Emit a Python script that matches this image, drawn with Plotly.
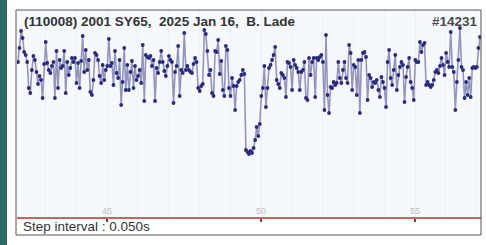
import plotly.graph_objects as go

# Time axis (seconds, per reference axis), constant step interval
t_start = 42.11
step = 0.05

# Relative brightness readings (arbitrary relative-magnitude units, larger = fainter)
rel_mag = [
    62, 48, 31, 38, 52, 55, 62, 88, 93, 70,
    56, 60, 72, 84, 76, 80, 98, 64, 42, 63,
    70, 73, 66, 62, 98, 51, 88, 60, 68, 66,
    51, 93, 62, 75, 68, 58, 62, 58, 83, 63,
    88, 61, 36, 72, 50, 70, 60, 92, 95, 80,
    53, 55, 60, 76, 83, 65, 80, 70, 66, 39,
    66, 63, 85, 51, 73, 78, 60, 105, 82, 48,
    90, 65, 90, 72, 61, 88, 66, 80, 76, 70,
    83, 45, 101, 55, 57, 58, 56, 66, 60, 101,
    68, 73, 62, 51, 62, 71, 76, 66, 56, 60,
    62, 103, 72, 66, 46, 96, 70, 73, 33, 70,
    66, 70, 72, 73, 64, 58, 62, 88, 91, 86,
    84, 30, 34, 51, 75, 70, 93, 96, 51, 52,
    40, 74, 61, 90, 96, 46, 50, 88, 96, 78,
    86, 110, 86, 82, 80, 75, 70, 74, 150, 152,
    154, 151, 153, 148, 140, 127, 136, 124, 96, 88,
    66, 107, 88, 68, 65, 60, 55, 47, 80, 84,
    88, 73, 75, 78, 97, 62, 63, 67, 90, 60,
    65, 68, 72, 90, 72, 70, 62, 98, 100, 58,
    75, 62, 58, 97, 58, 60, 57, 55, 62, 110,
    35, 95, 113, 87, 88, 82, 85, 83, 62, 78,
    83, 70, 62, 78, 83, 45, 53, 90, 65, 67,
    95, 60, 113, 60, 53, 52, 57, 100, 75, 78,
    87, 82, 83, 80, 90, 97, 77, 82, 88, 107,
    62, 50, 78, 85, 70, 55, 90, 75, 67, 62,
    65, 102, 77, 67, 58, 82, 88, 100, 60, 62,
    62, 42, 52, 45, 43, 85, 82, 85, 87, 85,
    80, 72, 70, 73, 66, 58, 65, 75, 53, 62,
    67, 32, 67, 72, 110, 82, 60, 28, 67, 70,
    98, 82, 95, 78, 97, 68, 67, 68, 67, 48,
    37,
]
times = [round(t_start + step * i, 3) for i in range(len(rel_mag))]

tick_vals = [45, 50, 55]
tick_text = ["45", "50", "55"]

title_text = "<b>(110008) 2001 SY65,\u00a0 2025 Jan 16,\u00a0 B. Lade</b>"
id_text = "<b>#14231</b>"
step_text = "Step interval : 0.050s"

W, H = 486, 245
ml, mr, mt, mb = 17, 5, 10, 28
pw, ph = W - ml - mr, H - mt - mb

fig = go.Figure(
    go.Scatter(
        x=times, y=rel_mag, mode="lines+markers",
        line=dict(color="rgba(138,138,182,0.9)", width=1.6),
        marker=dict(color="#2a2a80", size=3.8),
        hoverinfo="skip",
    )
)

fig.update_layout(
    width=W, height=H,
    margin=dict(l=ml, r=mr, t=mt, b=mb),
    paper_bgcolor="white",
    plot_bgcolor="#f5f8fd",
    showlegend=False,
    font=dict(family="Liberation Sans, Arial, sans-serif"),
    xaxis=dict(
        range=[42.078, 57.143],
        tickvals=tick_vals, ticktext=tick_text,
        ticklabelposition="inside",
        tickfont=dict(size=9, color="#c0c0c0"),
        showline=True, linecolor="rgb(204,98,98)", linewidth=2,
        ticks="outside", ticklen=3, tickwidth=2, tickcolor="#8a3a3a",
        showgrid=True, gridcolor="#e8eef7", gridwidth=1,
        minor=dict(dtick=1, tick0=0, showgrid=True, gridcolor="#edf2f9", ticks=""),
        zeroline=False, fixedrange=True,
    ),
    yaxis=dict(visible=False, range=[217, 10], fixedrange=True),
    shapes=[
        dict(type="rect", xref="paper", yref="paper",
             x0=-ml / pw, x1=(7 - ml) / pw, y0=-0.2, y1=1.1,
             fillcolor="#2e6b66", line=dict(width=0), layer="below"),
        dict(type="rect", xref="paper", yref="paper",
             x0=-1 / pw, x1=1.0, y0=-(235 - 217) / ph, y1=1.0,
             fillcolor="rgba(0,0,0,0)", line=dict(color="#555555", width=1)),
    ],
    annotations=[
        dict(text=title_text, xref="paper", yref="paper",
             x=(22 - ml) / pw, y=1 - (21 - mt) / ph, xanchor="left", yanchor="middle",
             showarrow=False, font=dict(size=13.5, color="#333333")),
        dict(text=id_text, xref="paper", yref="paper",
             x=(480 - ml) / pw, y=1 - (21 - mt) / ph, xanchor="right", yanchor="middle",
             showarrow=False, font=dict(size=13.5, color="#4a4a4a")),
        dict(text=step_text, xref="paper", yref="paper",
             x=(21 - ml) / pw, y=-(226.5 - 217) / ph, xanchor="left", yanchor="middle",
             showarrow=False, font=dict(size=13.5, color="#333333")),
    ],
)

fig.write_html(
    "out.html",
    config={"displayModeBar": False, "staticPlot": True},
    post_script="document.body.style.margin='0';document.body.style.padding='0';document.body.style.overflow='hidden';",
)
